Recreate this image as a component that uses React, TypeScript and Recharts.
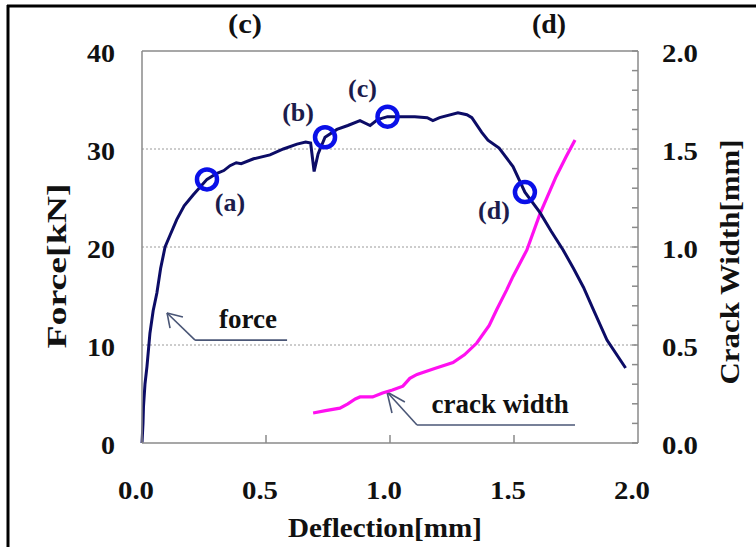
import React from "react";
import { ComposedChart, Line, Scatter, XAxis, YAxis, CartesianGrid, ReferenceLine } from "recharts";

// force curve: deflection [mm] vs force [kN]
const forceDeflection = [
  0, 0.004, 0.006, 0.012, 0.02, 0.032, 0.045, 0.06, 0.075, 0.093, 0.113, 0.14, 0.17, 0.206, 0.262, 0.3,
  0.33, 0.355, 0.38, 0.4, 0.45, 0.516, 0.57, 0.625, 0.66, 0.68, 0.694, 0.71, 0.738, 0.786, 0.83, 0.879,
  0.92, 0.95, 0.99, 1.04, 1.1, 1.15, 1.173, 1.2, 1.274, 1.31, 1.33, 1.37, 1.395, 1.44, 1.496, 1.544,
  1.605, 1.65, 1.698, 1.74, 1.78, 1.82, 1.875, 1.95,
];
const forceKN = [
  0, 2, 3.7, 6, 7.8, 11.2, 13.5, 15.3, 17.8, 20, 21.2, 22.8, 24.2, 25.3, 26.9, 27.5,
  27.8, 28.3, 28.6, 28.5, 29, 29.4, 30, 30.5, 30.7, 30.6, 27.7, 29.5, 31.2, 32.0, 32.4, 32.9,
  32.4, 33.0, 33.3, 33.3, 33.3, 33.2, 32.9, 33.2, 33.7, 33.5, 33.2, 31.7, 30.9, 30.1, 28.2, 25.6,
  23.5, 21.6, 19.7, 17.8, 15.9, 13.6, 10.5, 7.65,
];

// crack width curve: deflection [mm] vs crack width [mm]
const crackDeflection = [
  0.69, 0.74, 0.798, 0.83, 0.86, 0.879, 0.93, 0.97, 1.01, 1.052, 1.08, 1.109, 1.18, 1.254, 1.3, 1.35,
  1.4, 1.43, 1.47, 1.496, 1.552, 1.605, 1.67, 1.71, 1.746,
];
const crackWidth = [
  0.153, 0.165, 0.178, 0.2, 0.225, 0.235, 0.235, 0.255, 0.27, 0.29, 0.33, 0.35, 0.38, 0.41, 0.45, 0.51,
  0.6, 0.68, 0.78, 0.85, 0.985, 1.17, 1.36, 1.46, 1.546,
];

// circled points on the force curve
const markerDeflection = [0.262, 0.738, 0.99, 1.544];
const markerForce = [26.9, 31.2, 33.3, 25.6];
const markerLabels = ["(a)", "(b)", "(c)", "(d)"];

// callouts
const calloutText = ["force", "crack width"];
const calloutDeflection = [0.427, 1.444];
const calloutForce = [11.73, 3.06];
const forceArrow = [
  { x: 0.101, y: 13.27 },
  { x: 0.214, y: 10.5 },
  { x: 0.585, y: 10.5 },
];
const forceArrowHead = [
  { x: 0.165, y: 12.86 },
  { x: 0.113, y: 11.73 },
];
const crackArrow = [
  { x: 0.988, y: 5.2 },
  { x: 1.109, y: 1.84 },
  { x: 1.746, y: 1.84 },
];
const crackArrowHead = [
  { x: 1.06, y: 4.18 },
  { x: 1.008, y: 3.06 },
];

const xTicks = [0, 0.5, 1.0, 1.5, 2.0];
const leftTicks = [0, 10, 20, 30, 40];
const rightTicks = [
  0, 0.1, 0.2, 0.3, 0.4, 0.5, 0.6, 0.7, 0.8, 0.9, 1.0, 1.1, 1.2, 1.3, 1.4, 1.5, 1.6, 1.7, 1.8, 1.9, 2.0,
];
const headerLabels = ["(c)", "(d)"];

const rows = [
  ...forceDeflection.map((d, i) => ({ d, force: forceKN[i] })),
  ...crackDeflection.map((d, i) => ({ d, crack: crackWidth[i] })),
].sort((a, b) => a.d - b.d);

const markers = markerDeflection.map((d, i) => ({ d, y: markerForce[i], label: markerLabels[i] }));
const callouts = calloutText.map((text, i) => ({ d: calloutDeflection[i], y: calloutForce[i], text }));

const SERIF = "'Liberation Serif', 'Times New Roman', serif";
const AXIS_GRAY = "#8a8a8a";
const ARROW = "#4a5676";

// label offsets from circle centre (px)
const labelOffset: Record<string, [number, number]> = {
  "(a)": [23, 23],
  "(b)": [-27, -25],
  "(c)": [-25, -29],
  "(d)": [-31, 18],
};

const numWidth = (s: string) => {
  let w = 0;
  for (const ch of s) w += ch === "." ? 8 : 14;
  return w;
};

const XTick = (props: any) => {
  const { x, y, payload } = props;
  const v = payload.value as number;
  const s = v.toFixed(1);
  return (
    <g>
      {v > 0 && v < 2 && <line x1={x} x2={x} y1={y} y2={y - 8} stroke={AXIS_GRAY} strokeWidth={1.5} />}
      <text x={x - 6} y={y + 56} textAnchor="middle" fontFamily={SERIF} fontWeight="bold" fontSize={26}
        fill="#111" textLength={numWidth(s)} lengthAdjust="spacingAndGlyphs">
        {s}
      </text>
    </g>
  );
};

const LeftTick = (props: any) => {
  const { x, y, payload } = props;
  const s = String(payload.value);
  return (
    <text x={x - 27} y={y + 11} textAnchor="end" fontFamily={SERIF} fontWeight="bold" fontSize={26}
      fill="#111" textLength={numWidth(s)} lengthAdjust="spacingAndGlyphs">
      {s}
    </text>
  );
};

const RightTick = (props: any) => {
  const { x, y, payload } = props;
  const v = payload.value as number;
  const major = Math.abs(v * 2 - Math.round(v * 2)) < 1e-6;
  const s = v.toFixed(1);
  return (
    <g>
      <line x1={x} x2={x - 6} y1={y} y2={y} stroke={AXIS_GRAY} strokeWidth={1.5} />
      {major && (
        <text x={x + 24} y={y + 11} textAnchor="start" fontFamily={SERIF} fontWeight="bold" fontSize={26}
          fill="#111" textLength={numWidth(s)} lengthAdjust="spacingAndGlyphs">
          {s}
        </text>
      )}
    </g>
  );
};

const MarkerShape = (props: any) => {
  const { cx, cy, payload } = props;
  const [dx, dy] = labelOffset[payload.label] || [0, 0];
  return (
    <g>
      <circle cx={cx} cy={cy} r={10} fill="none" stroke="#0a10e8" strokeWidth={4.5} />
      <text x={cx + dx} y={cy + dy + 9} textAnchor="middle" fontFamily={SERIF} fontWeight="bold" fontSize={26}
        fill="#1c1c4c">
        {payload.label}
      </text>
    </g>
  );
};

const CalloutShape = (props: any) => {
  const { cx, cy, payload } = props;
  return (
    <text x={cx} y={cy} textAnchor="middle" fontFamily={SERIF} fontWeight="bold" fontSize={27} fill="#111">
      {payload.text}
    </text>
  );
};

const seg = (pts: { x: number; y: number }[]) =>
  pts.slice(1).map((p, i) => [pts[i], p] as [{ x: number; y: number }, { x: number; y: number }]);

export default function App() {
  const arrowSegments = [
    ...seg(forceArrow),
    [forceArrow[0], forceArrowHead[0]],
    [forceArrow[0], forceArrowHead[1]],
    ...seg(crackArrow),
    [crackArrow[0], crackArrowHead[0]],
    [crackArrow[0], crackArrowHead[1]],
  ] as any[];

  return (
    <div style={{ position: "absolute", left: 0, top: 0, width: 756, height: 547, background: "#fff" }}>
      <ComposedChart width={756} height={547} data={rows} margin={{ top: 51, right: 58, bottom: 0, left: 82 }}>
        <CartesianGrid yAxisId="left" vertical={false} horizontalValues={[10, 20, 30]} stroke="#9a9a9a"
          strokeDasharray="2 2" />
        <XAxis dataKey="d" type="number" domain={[0, 2]} ticks={xTicks} interval={0} height={104}
          tickSize={0} tickMargin={0} tickLine={false} tick={<XTick />}
          axisLine={{ stroke: AXIS_GRAY, strokeWidth: 1.5 }} />
        <YAxis yAxisId="left" orientation="left" type="number" domain={[0, 40]} ticks={leftTicks} interval={0}
          width={60} tickSize={0} tickMargin={0} tickLine={false} tick={<LeftTick />}
          axisLine={{ stroke: AXIS_GRAY, strokeWidth: 1.5 }} />
        <YAxis yAxisId="right" orientation="right" type="number" domain={[0, 2]} ticks={rightTicks} interval={0}
          width={60} tickSize={0} tickMargin={0} tickLine={false} tick={<RightTick />}
          axisLine={{ stroke: AXIS_GRAY, strokeWidth: 1.5 }} />
        <ReferenceLine yAxisId="left" y={40} stroke={AXIS_GRAY} strokeWidth={1.5} />
        {arrowSegments.map((s, i) => (
          <ReferenceLine key={i} yAxisId="left" segment={s} stroke={ARROW} strokeWidth={1.6} />
        ))}
        <Line yAxisId="right" dataKey="crack" type="linear" stroke="#ff10f0" strokeWidth={3.2} dot={false}
          connectNulls isAnimationActive={false} />
        <Line yAxisId="left" dataKey="force" type="linear" stroke="#0c0c66" strokeWidth={3} dot={false}
          connectNulls isAnimationActive={false} />
        <Scatter yAxisId="left" data={markers} dataKey="y" shape={<MarkerShape />} isAnimationActive={false} />
        <Scatter yAxisId="left" data={callouts} dataKey="y" shape={<CalloutShape />} isAnimationActive={false} />
      </ComposedChart>
      <svg width={756} height={547} style={{ position: "absolute", left: 0, top: 0, pointerEvents: "none" }}>
        <line x1={7} x2={756} y1={6} y2={6} stroke="#000" strokeWidth={3} />
        <line x1={8} x2={8} y1={5} y2={547} stroke="#000" strokeWidth={3} />
        <text x={245} y={33} textAnchor="middle" fontFamily={SERIF} fontWeight="bold" fontSize={27} fill="#111"
          textLength={34} lengthAdjust="spacingAndGlyphs">
          {headerLabels[0]}
        </text>
        <text x={549} y={33} textAnchor="middle" fontFamily={SERIF} fontWeight="bold" fontSize={27} fill="#111"
          textLength={34} lengthAdjust="spacingAndGlyphs">
          {headerLabels[1]}
        </text>
        <text transform="translate(66,266) rotate(-90)" textAnchor="middle" fontFamily={SERIF} fontWeight="bold"
          fontSize={28} fill="#111" textLength={165} lengthAdjust="spacingAndGlyphs">
          Force[kN]
        </text>
        <text transform="translate(739,262) rotate(-90)" textAnchor="middle" fontFamily={SERIF} fontWeight="bold"
          fontSize={28} fill="#111" textLength={245} lengthAdjust="spacingAndGlyphs">
          Crack Width[mm]
        </text>
        <text x={385} y={537} textAnchor="middle" fontFamily={SERIF} fontWeight="bold" fontSize={27} fill="#111"
          textLength={194} lengthAdjust="spacingAndGlyphs">
          Deflection[mm]
        </text>
      </svg>
    </div>
  );
}
